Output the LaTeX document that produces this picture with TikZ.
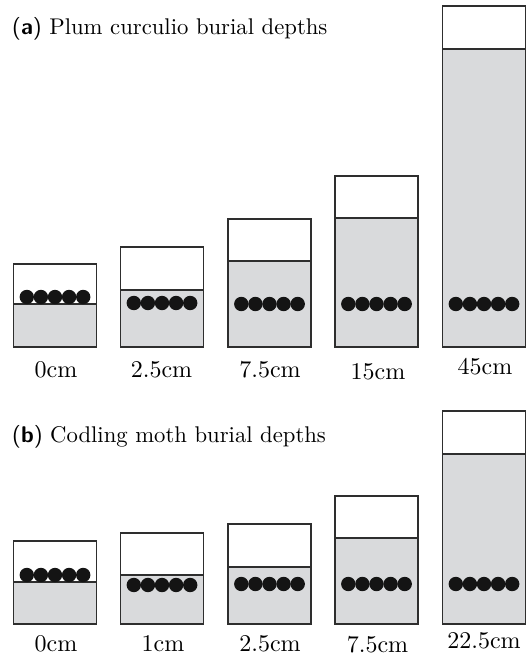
\documentclass[tikz,border=0pt]{standalone}
\usepackage{graphicx}
\definecolor{soil}{HTML}{D9DADC}
\definecolor{edge}{HTML}{2E2E2E}
\tikzset{
  boxline/.style={draw=edge, line width=1.3pt},
  soilline/.style={draw=edge, line width=1.2pt},
  larva/.style={fill=black!92},
  lbl/.style={anchor=base, inner sep=0pt, font=\fontsize{10}{12}\selectfont},
  ttl/.style={anchor=base west, inner sep=0pt, font=\fontsize{10}{12}\selectfont},
}
\newcommand\lbltext[1]{\scalebox{2.4}{#1}}
\newcommand\ttltext[1]{\scalebox{2.27}{#1}}
% #1 centre x, #2 top, #3 soil surface, #4 bottom, #5 larvae y
\newcommand\soilcontainer[5]{%
  \fill[soil] (#1-41.5,#3) rectangle (#1+41.5,#4);
  \draw[soilline] (#1-41.5,#3) -- (#1+41.5,#3);
  \foreach \k in {-2,...,2} \fill[larva] (#1+\k*14.1,#5) circle (7.2pt);
  \draw[boxline] (#1-41.5,#2) rectangle (#1+41.5,#4);
}
\begin{document}
\begin{tikzpicture}[x=1pt,y=-1pt]
\useasboundingbox (0,0) rectangle (531,656);
% panel (a)
\node[ttl] (ta) at (12,34) {\ttltext{\textsf{(\textbf{a})} Plum curculio burial depths}};
\soilcontainer{55}{264}{304}{347}{297}
\soilcontainer{162}{247}{290}{347}{303}
\soilcontainer{269.5}{219}{261}{347}{304}
\soilcontainer{376.5}{176}{218}{347}{304}
\soilcontainer{484}{6}{49}{347}{304}
\node[lbl] (la1) at (56,377) {\lbltext{0cm}};
\node[lbl] (la2) at (161.5,377) {\lbltext{2.5cm}};
\node[lbl] (la3) at (270,377) {\lbltext{7.5cm}};
\node[lbl] (la4) at (378,379) {\lbltext{15cm}};
\node[lbl] (la5) at (485,374) {\lbltext{45cm}};
% panel (b)
\node[ttl] (tb) at (12,442) {\ttltext{\textsf{(\textbf{b})} Codling moth burial depths}};
\soilcontainer{55}{541}{582}{624}{575}
\soilcontainer{162}{533}{575}{624}{585}
\soilcontainer{269.5}{524}{567}{624}{584}
\soilcontainer{376.5}{496}{538}{624}{584}
\soilcontainer{484}{411}{454}{624}{584}
\node[lbl] (lb1) at (56,651) {\lbltext{0cm}};
\node[lbl] (lb2) at (163,651) {\lbltext{1cm}};
\node[lbl] (lb3) at (270,651) {\lbltext{2.5cm}};
\node[lbl] (lb4) at (377.5,652) {\lbltext{7.5cm}};
\node[lbl] (lb5) at (484,648) {\lbltext{22.5cm}};
\end{tikzpicture}
\end{document}
